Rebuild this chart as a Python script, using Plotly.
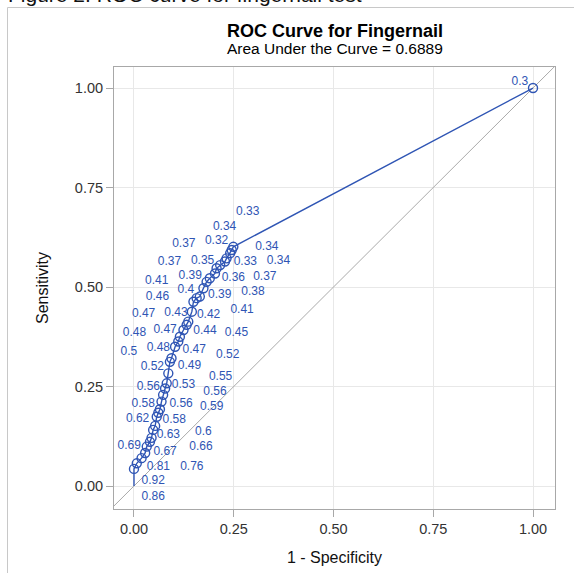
import plotly.graph_objects as go

# ROC points (1 - specificity, sensitivity); first point is the (0,0) origin
fpr = [0.0, 0.0, 0.007, 0.019, 0.028, 0.032, 0.040, 0.044, 0.048, 0.053,
       0.057, 0.061, 0.065, 0.069, 0.073, 0.078, 0.082, 0.086, 0.090, 0.094,
       0.103, 0.111, 0.115, 0.124, 0.132, 0.136, 0.145, 0.149, 0.157, 0.165,
       0.174, 0.182, 0.190, 0.203, 0.207, 0.216, 0.228, 0.232, 0.241, 0.245,
       0.249, 1.0]
tpr = [0.0, 0.043, 0.057, 0.070, 0.083, 0.099, 0.111, 0.121, 0.141, 0.151,
       0.174, 0.184, 0.193, 0.212, 0.229, 0.245, 0.258, 0.283, 0.312, 0.321,
       0.350, 0.363, 0.375, 0.392, 0.405, 0.413, 0.438, 0.463, 0.472, 0.476,
       0.497, 0.513, 0.522, 0.534, 0.547, 0.555, 0.564, 0.572, 0.585, 0.593,
       0.601, 1.0]

# cutoff probability labels
cutoffs = ["0.3", "0.33", "0.34", "0.37", "0.32", "0.34", "0.37", "0.35", "0.33", "0.34",
           "0.41", "0.39", "0.36", "0.37", "0.46", "0.4", "0.39", "0.38",
           "0.47", "0.43", "0.42", "0.41", "0.48", "0.47", "0.44", "0.45",
           "0.5", "0.48", "0.47", "0.52", "0.52", "0.49", "0.55",
           "0.56", "0.53", "0.56", "0.58", "0.56", "0.59", "0.62", "0.58",
           "0.63", "0.6", "0.69", "0.67", "0.66", "0.81", "0.76", "0.92", "0.86"]
# label placement (data units), as laid out by collision avoidance
label_x = [0.967, 0.285, 0.227, 0.125, 0.207, 0.333, 0.089, 0.172, 0.279, 0.362,
           0.057, 0.141, 0.249, 0.328, 0.059, 0.130, 0.215, 0.298,
           0.024, 0.105, 0.187, 0.271, 0.001, 0.078, 0.178, 0.257,
           -0.013, 0.061, 0.151, 0.235, 0.046, 0.139, 0.217,
           0.036, 0.124, 0.203, 0.023, 0.118, 0.195, 0.009, 0.101,
           0.086, 0.174, -0.012, 0.078, 0.168, 0.061, 0.145, 0.048, 0.048]
label_y = [1.016, 0.688, 0.652, 0.607, 0.616, 0.600, 0.564, 0.566, 0.562, 0.565,
           0.516, 0.528, 0.523, 0.526, 0.476, 0.492, 0.479, 0.487,
           0.431, 0.435, 0.430, 0.442, 0.384, 0.392, 0.389, 0.384,
           0.337, 0.348, 0.342, 0.329, 0.300, 0.302, 0.273,
           0.250, 0.254, 0.237, 0.206, 0.205, 0.198, 0.168, 0.166,
           0.128, 0.136, 0.101, 0.086, 0.097, 0.048, 0.048, 0.013, -0.027]

tick_vals = [0, 0.25, 0.5, 0.75, 1.0]
tick_text = ["0.00", "0.25", "0.50", "0.75", "1.00"]

BLUE = "#2F55B4"
FONT = "Liberation Sans, Arial, sans-serif"

fig = go.Figure()
fig.add_trace(go.Scatter(x=fpr, y=tpr, mode="lines",
                         line=dict(color=BLUE, width=1.4), hoverinfo="skip",
                         showlegend=False))
fig.add_trace(go.Scatter(x=fpr[1:], y=tpr[1:], mode="markers",
                         marker=dict(symbol="circle-open", size=9,
                                     line=dict(color=BLUE, width=1.4), color=BLUE),
                         showlegend=False))
fig.add_trace(go.Scatter(x=label_x, y=label_y, mode="text", text=cutoffs,
                         textposition="middle center",
                         textfont=dict(family=FONT, size=12, color=BLUE),
                         showlegend=False, cliponaxis=False))

# chance diagonal
fig.add_shape(type="line", xref="x", yref="y", x0=-0.2, y0=-0.2, x1=1.2, y1=1.2,
              line=dict(color="#AAAAAA", width=1), layer="between")

L, R, T, B = 114, 19, 67, 64
W, H = 574, 573
pw, ph = W - L - R, H - T - B

def px(xp):
    return (xp - L) / pw

def py(yp):
    return 1 + (T - yp) / ph

# outer graph border (left and top)
fig.add_shape(type="line", xref="paper", yref="paper", x0=px(7.5), x1=px(7.5),
              y0=py(7.5), y1=py(600), line=dict(color="#C8C8C8", width=1))
fig.add_shape(type="line", xref="paper", yref="paper", x0=px(7.5), x1=px(600),
              y0=py(7.5), y1=py(7.5), line=dict(color="#C8C8C8", width=1))

annotations = [
    dict(text="Figure 2: ROC curve for fingernail test", xref="paper", yref="paper",
         x=px(6), y=py(7.5), xanchor="left", yanchor="bottom", showarrow=False,
         font=dict(family=FONT, size=21, color="#111111")),
    dict(text="<b>ROC Curve for Fingernail</b>", xref="paper", yref="paper",
         x=0.5, y=py(31), xanchor="center", yanchor="middle", showarrow=False,
         font=dict(family=FONT, size=18, color="#000000")),
    dict(text="Area Under the Curve = 0.6889", xref="paper", yref="paper",
         x=0.5, y=py(49), xanchor="center", yanchor="middle", showarrow=False,
         font=dict(family=FONT, size=15.5, color="#000000")),
]

axis_common = dict(
    tickvals=tick_vals, ticktext=tick_text,
    showgrid=True, gridcolor="#E8E8E8", gridwidth=1,
    zeroline=False, showline=True, mirror=True, linecolor="#A8A8A8", linewidth=1,
    ticks="outside", ticklen=7, tickcolor="#A8A8A8",
    tickfont=dict(family=FONT, size=14.5, color="#333333"),
)

fig.update_layout(
    width=W, height=H,
    margin=dict(l=L, r=R, t=T, b=B, autoexpand=False),
    paper_bgcolor="white", plot_bgcolor="white",
    font=dict(family=FONT),
    xaxis=dict(range=[-0.0501, 1.0551],
               title=dict(text="1 - Specificity", standoff=15,
                          font=dict(family=FONT, size=16, color="#111111")),
               **axis_common),
    yaxis=dict(range=[-0.0578, 1.0528],
               title=dict(text="Sensitivity", standoff=22,
                          font=dict(family=FONT, size=16, color="#111111")),
               **axis_common),
    annotations=annotations,
    showlegend=False,
)

fig.write_html("out.html", config={"displayModeBar": False},
               post_script="document.body.style.margin='0';document.body.style.overflow='hidden';")
